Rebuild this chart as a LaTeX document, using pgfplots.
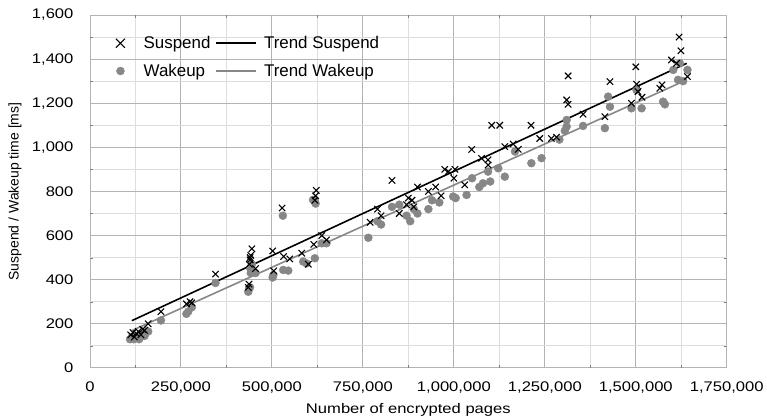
\documentclass[border=0pt]{standalone}
\usepackage{pgfplots}
\pgfplotsset{compat=1.18}
\usepackage{fontspec}
\setmainfont{Liberation Sans}
\newfontfamily\tickfont{Liberation Sans}[FakeStretch=1.19]
\definecolor{MajGrid}{HTML}{B3B3B3}
\definecolor{MinGrid}{HTML}{DDDDDD}
\definecolor{WakeGray}{HTML}{878787}

\pgfplotsset{
  legX/.style={legend image code/.code={%
    \draw[white, opacity=0] (-6bp,0bp) -- (16bp,0bp);
    \draw[black,line width=1.1pt] (-4.5bp,-4.5bp)--(4.5bp,4.5bp) (-4.5bp,4.5bp)--(4.5bp,-4.5bp);}},
  legDot/.style={legend image code/.code={%
    \draw[white, opacity=0] (-6bp,0bp) -- (16bp,0bp);
    \fill[WakeGray] (0bp,0bp) circle[radius=4bp];}},
  legLine/.style={legend image code/.code={%
    \draw[#1] (0bp,0bp) -- (40bp,0bp);}},
}

\pgfplotstableread{
x y
112000 150
118000 160
122000 140
128000 155
133000 165
140000 150
145000 175
150000 170
160000 200
195000 255
265000 290
275000 300
280000 295
345000 425
435000 365
437000 380
438000 470
440000 490
440000 500
442000 510
445000 540
455000 450
502000 530
505000 440
528000 725
532000 505
549000 494
582000 520
600000 470
615000 560
618000 760
620000 780
622000 805
637000 600
650000 580
770000 660
790000 720
800000 690
830000 850
850000 700
870000 740
875000 770
885000 760
890000 730
900000 820
930000 800
950000 820
965000 780
975000 900
985000 890
1000000 860
1003000 900
1030000 830
1049000 990
1076000 950
1094000 920
1094000 943
1104000 1100
1126000 1100
1140000 1003
1163000 1015
1177000 991
1212000 1100
1236000 1040
1268000 1040
1282000 1046
1310000 1215
1314000 1324
1314000 1195
1355000 1150
1415000 1139
1429000 1298
1488000 1200
1500000 1365
1502000 1286
1506000 1253
1517000 1227
1566000 1268
1572000 1283
1598000 1396
1612000 1381
1619000 1500
1624000 1438
1642000 1321
}\suspend

\pgfplotstableread{
x y
110000 130
115000 140
120000 130
125000 135
130000 140
135000 130
140000 150
150000 145
160000 165
195000 215
265000 245
270000 255
280000 275
345000 385
435000 345
437000 360
440000 365
440000 453
442000 430
445000 470
455000 430
502000 410
504000 421
530000 690
531000 444
545000 441
586000 482
595000 474
618000 497
613000 762
618000 754
620000 745
637000 565
650000 565
765000 590
790000 665
800000 650
830000 730
850000 740
870000 690
880000 665
890000 720
900000 700
930000 720
940000 760
960000 750
998000 777
1005000 770
1035000 784
1050000 860
1070000 820
1080000 837
1094000 890
1100000 845
1122000 905
1140000 867
1168000 981
1213000 928
1241000 951
1290000 1035
1310000 1124
1310000 1094
1305000 1075
1355000 1097
1415000 1087
1424000 1230
1429000 1184
1488000 1177
1502000 1260
1516000 1177
1575000 1207
1580000 1195
1603000 1351
1616000 1306
1621000 1381
1630000 1300
1642000 1351
}\wakeup

\begin{document}
\begin{tikzpicture}
\path (-90bp,-51bp) rectangle (677bp,368bp);
\begin{axis}[
  at={(0,0)}, anchor=origin,
  scale only axis, width=637bp, height=353bp,
  xmin=0, xmax=1750000, ymin=0, ymax=1600,
  axis line style={draw=none},
  major tick length=0pt,
  xtick distance=250000, ytick distance=200,
  minor x tick num=1, minor y tick num=1,
  grid=both,
  major grid style={MajGrid, line width=0.9pt},
  minor grid style={MinGrid, line width=0.9pt},
  scaled ticks=false,
  /pgf/number format/.cd, fixed, 1000 sep={,}, assume math mode=true, /pgfplots/.cd,
  tick label style={font=\tickfont\fontsize{14}{16}\selectfont},
  xticklabel style={anchor=north, yshift=-10bp},
  yticklabel style={anchor=east, xshift=-13bp},
  xlabel={Number of encrypted pages},
  ylabel={Suspend / Wakeup time [ms]},
  xlabel style={font=\tickfont\fontsize{14}{16}\selectfont,
    at={(axis description cs:0.5,0)}, anchor=center, yshift=-42bp},
  ylabel style={font=\fontsize{14}{16}\selectfont,
    at={(axis description cs:0,0.5)}, anchor=center, yshift=75bp},
  legend columns=2,
  legend style={draw=none, fill=none, at={(axis cs:58000,1522)}, anchor=north west,
    font=\fontsize{17}{19}\selectfont, row sep=10bp,
    /tikz/every even column/.append style={column sep=3bp},
    /tikz/every odd column/.append style={column sep=5bp}},
  legend cell align=left,
]
\addplot[only marks, mark=*, mark size=4bp, WakeGray, draw=none, forget plot] table {\wakeup};
\addplot[only marks, mark=x, mark size=4.5bp, black, mark options={line width=1.1pt}, forget plot] table {\suspend};
\addplot[black, line width=1.6pt, forget plot] coordinates {(115000,214) (1640000,1381)};
\addplot[WakeGray, line width=1.6pt, forget plot] coordinates {(115000,169) (1640000,1306)};
\addlegendimage{legX}
\addlegendentry{Suspend}
\addlegendimage{legLine, black, line width=1.6pt}
\addlegendentry{Trend Suspend}
\addlegendimage{legDot}
\addlegendentry{Wakeup}
\addlegendimage{legLine, WakeGray, line width=1.6pt}
\addlegendentry{Trend Wakeup}
\end{axis}
\end{tikzpicture}
\end{document}
